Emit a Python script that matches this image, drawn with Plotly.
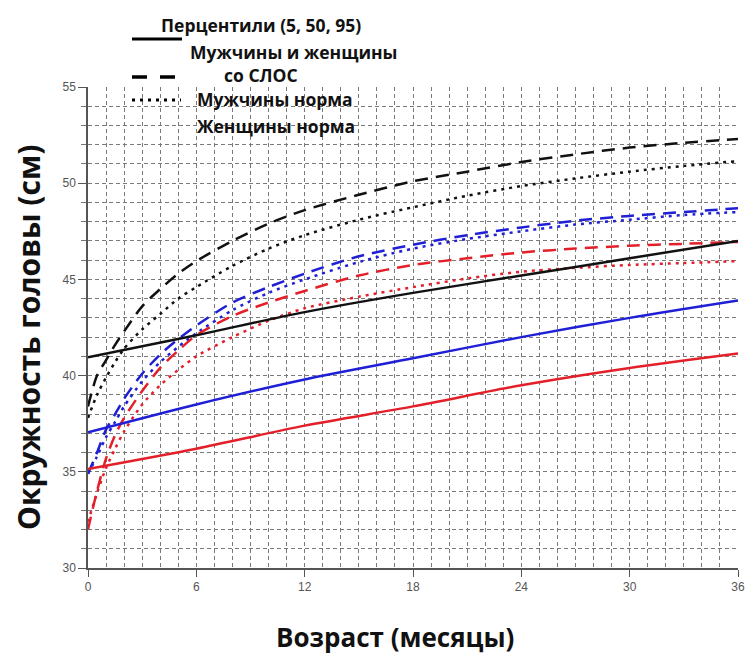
import plotly.graph_objects as go

# ---- data ----
months_norm = [0, 0.5, 1, 1.5, 2, 3, 4, 5, 6, 8, 10, 12, 15, 18, 21, 24, 27, 30, 33, 36]
months_slos = [0, 6, 12, 18, 24, 30, 36]

# SLOS (males and females), percentiles 95 / 50 / 5 (solid)
slos_p95 = [40.95, 42.1, 43.3, 44.3, 45.2, 46.1, 47.0]
slos_p50 = [37.05, 38.5, 39.8, 40.9, 42.0, 43.0, 43.9]
slos_p5 = [35.15, 36.2, 37.4, 38.4, 39.5, 40.4, 41.15]

# Normal males (dashed)
male_p95 = [38.4, 40.0, 40.8, 41.6, 42.3, 43.6, 44.5, 45.3, 45.95, 47.0, 47.9, 48.6, 49.4, 50.1, 50.6, 51.1, 51.5, 51.85, 52.1, 52.3]
male_p50 = [34.9, 36.0, 37.2, 38.0, 38.8, 40.1, 41.1, 41.9, 42.6, 43.8, 44.6, 45.3, 46.2, 46.8, 47.3, 47.7, 48.05, 48.3, 48.5, 48.7]
male_p5 = [32.0, 34.0, 35.7, 36.9, 37.8, 39.2, 40.4, 41.3, 42.1, 43.1, 43.8, 44.4, 45.2, 45.75, 46.1, 46.4, 46.6, 46.75, 46.85, 46.95]

# Normal females (dotted)
female_p95 = [37.8, 39.0, 39.9, 40.7, 41.4, 42.4, 43.2, 44.0, 44.6, 45.7, 46.6, 47.3, 48.1, 48.75, 49.35, 49.85, 50.25, 50.6, 50.9, 51.15]
female_p50 = [34.9, 35.8, 36.8, 37.6, 38.4, 39.7, 40.7, 41.5, 42.2, 43.4, 44.3, 45.0, 45.9, 46.6, 47.1, 47.5, 47.85, 48.1, 48.35, 48.5]
female_p5 = [32.4, 33.9, 35.2, 36.2, 37.1, 38.5, 39.5, 40.3, 41.0, 42.0, 42.85, 43.5, 44.1, 44.6, 45.05, 45.4, 45.6, 45.75, 45.85, 45.95]

x_ticks = [0, 6, 12, 18, 24, 30, 36]
y_ticks = [30, 35, 40, 45, 50, 55]

BLACK = "#111111"
BLUE = "#1f1fd6"
RED = "#e3202a"
DASH = "13px,8px"
DOT = "3px,5px"

fig = go.Figure()

def add(x, y, color, dash, width):
    fig.add_trace(go.Scatter(x=x, y=y, mode="lines", showlegend=False, hoverinfo="skip",
                             line=dict(color=color, dash=dash, width=width, shape="spline", smoothing=0.8)))

add(months_norm, female_p95, BLACK, DOT, 2.5)
add(months_norm, female_p50, BLUE, DOT, 2.5)
add(months_norm, female_p5, RED, DOT, 2.5)
add(months_norm, male_p95, BLACK, DASH, 2.5)
add(months_norm, male_p50, BLUE, DASH, 2.5)
add(months_norm, male_p5, RED, DASH, 2.5)
add(months_slos, slos_p95, BLACK, "solid", 2.5)
add(months_slos, slos_p50, BLUE, "solid", 2.5)
add(months_slos, slos_p5, RED, "solid", 2.5)

W, H = 749, 660
L, R, T, B = 88, 738, 87, 568   # plot area in screen pixels

def px(xp):
    return (xp - L) / (R - L)

def py(yp):
    return (B - yp) / (B - T)

GRID = "#7a7a7a"
TICKF = dict(family="Arial, Liberation Sans, sans-serif", size=12, color="#555555")

fig.update_layout(
    width=W, height=H,
    margin=dict(l=L, r=W - R, t=T, b=H - B),
    paper_bgcolor="white", plot_bgcolor="white",
    xaxis=dict(range=[0, 36], tickvals=x_ticks, ticktext=[str(v) for v in x_ticks],
               showgrid=True, gridcolor=GRID, griddash="4px,3px", gridwidth=1,
               ticks="outside", ticklen=7, tickcolor="#555", tickwidth=1,
               showline=True, linecolor="#555", linewidth=1.5, zeroline=False,
               tickfont=TICKF, automargin=False,
               minor=dict(dtick=1, showgrid=True, gridcolor=GRID, griddash="4px,3px", gridwidth=1,
                          ticks="", tick0=0)),
    yaxis=dict(range=[30, 55], tickvals=y_ticks, ticktext=[str(v) for v in y_ticks],
               showgrid=True, gridcolor=GRID, griddash="4px,3px", gridwidth=1,
               ticks="outside", ticklen=8, tickcolor="#555", tickwidth=1,
               showline=True, linecolor="#555", linewidth=1.5, zeroline=False,
               tickfont=TICKF, automargin=False,
               minor=dict(dtick=1, showgrid=True, gridcolor=GRID, griddash="4px,3px", gridwidth=1,
                          ticks="outside", ticklen=5, tickcolor="#777", tick0=30)),
)

# white box hiding the grid under the legend
fig.add_shape(type="rect", xref="paper", yref="paper", x0=px(89.5), x1=px(417), y0=py(172), y1=1.0,
              fillcolor="white", line=dict(width=0), layer="between")

# legend samples
fig.add_shape(type="line", xref="paper", yref="paper", x0=px(132), x1=px(182), y0=py(39), y1=py(39),
              line=dict(color="black", width=3))
fig.add_shape(type="line", xref="paper", yref="paper", x0=px(132), x1=px(176), y0=py(77), y1=py(77),
              line=dict(color="black", width=3.5, dash="15px,13px"))
fig.add_shape(type="line", xref="paper", yref="paper", x0=px(132), x1=px(181), y0=py(100), y1=py(100),
              line=dict(color="black", width=3, dash="3px,5px"))

def txt(s, xpx, ypx, anchor="left", size=17.5, bold=True):
    fig.add_annotation(text=f"<b>{s}</b>" if bold else s, xref="paper", yref="paper",
                       x=px(xpx), y=py(ypx), xanchor=anchor, yanchor="middle", showarrow=False,
                       font=dict(family="Open Sans, sans-serif", size=size, color="#111"))

txt("Перцентили (5, 50, 95)", 261, 25, anchor="center", size=17.5)
txt("Мужчины и женщины", 188, 52)
txt("со СЛОС", 222, 75)
txt("Мужчины норма", 195, 99)
txt("Женщины норма", 195, 126)

# axis titles
fig.add_annotation(text="<b>Окружность головы (см)</b>", xref="paper", yref="paper",
                   x=px(28), y=py(338), textangle=-90, showarrow=False, xanchor="center", yanchor="middle",
                   font=dict(family="Open Sans, sans-serif", size=30, color="#111"))
fig.add_annotation(text="<b>Возраст (месяцы)</b>", xref="paper", yref="paper",
                   x=px(395), y=py(637), showarrow=False, xanchor="center", yanchor="middle",
                   font=dict(family="Open Sans, sans-serif", size=26, color="#111"))

fig.write_html("out.html", config={"displayModeBar": False},
               post_script="document.body.style.margin='0';document.body.style.overflow='hidden';")
